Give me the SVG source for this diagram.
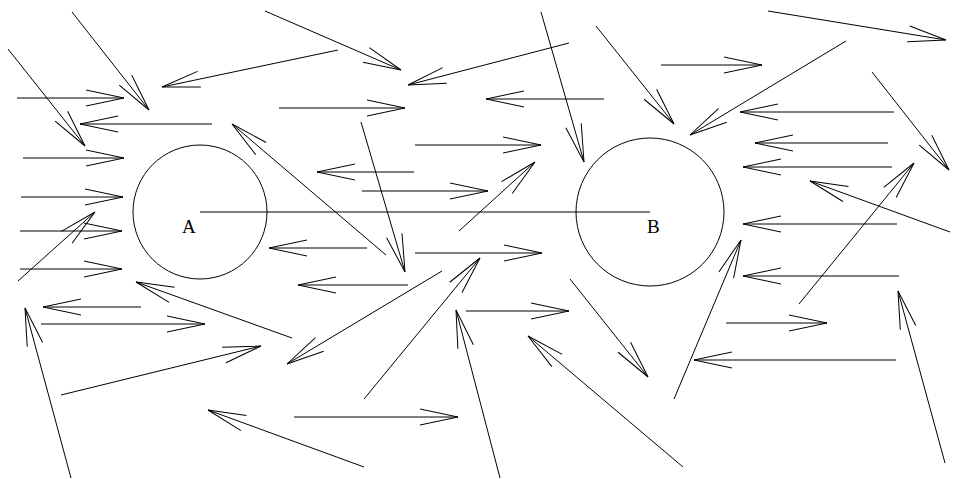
<svg xmlns="http://www.w3.org/2000/svg" width="954" height="479" viewBox="0 0 954 479">
<style>
.c{fill:none;stroke:#000;stroke-width:1}
.a{fill:none;stroke:#000;stroke-width:1;marker-end:url(#h)}
.l{fill:#000;font-family:"Liberation Serif","Times New Roman",serif;font-size:19px}
</style>
<defs>
<marker id="h" markerUnits="userSpaceOnUse" viewBox="-40 -10 42 20" refX="0" refY="0" markerWidth="42" markerHeight="20" orient="auto" overflow="visible">
<path d="M-38,-8 L0,0 L-38,8" fill="none" stroke="#000" stroke-width="1"/>
</marker>
</defs>
<rect width="954" height="479" fill="#fff"/>
<g id="nodeA">
<circle class="c" cx="200" cy="212" r="67"/>
<text class="l" x="182" y="233">A</text>
</g>
<g id="nodeB">
<circle class="c" cx="650" cy="212" r="74"/>
<text class="l" x="647" y="233">B</text>
</g>
<g id="connectors">
<line class="c" x1="200" y1="212" x2="650" y2="212"/>
<line class="a" x1="72" y1="12" x2="149" y2="110"/>
<line class="a" x1="8" y1="49" x2="85" y2="146"/>
<line class="a" x1="17" y1="98" x2="124" y2="98"/>
<line class="a" x1="212" y1="124" x2="80" y2="124"/>
<line class="a" x1="338" y1="50" x2="162" y2="87"/>
<line class="a" x1="265" y1="11" x2="401" y2="70"/>
<line class="a" x1="569" y1="43" x2="408" y2="85"/>
<line class="a" x1="279" y1="108" x2="405" y2="108"/>
<line class="a" x1="604" y1="99" x2="486" y2="99"/>
<line class="a" x1="541" y1="12" x2="584" y2="162"/>
<line class="a" x1="596" y1="26" x2="674" y2="124"/>
<line class="a" x1="661" y1="65" x2="762" y2="65"/>
<line class="a" x1="768" y1="11" x2="946" y2="40"/>
<line class="a" x1="846" y1="41" x2="690" y2="135"/>
<line class="a" x1="894" y1="112" x2="740" y2="112"/>
<line class="a" x1="872" y1="72" x2="949" y2="170"/>
<line class="a" x1="888" y1="143" x2="755" y2="143"/>
<line class="a" x1="892" y1="167" x2="743" y2="167"/>
<line class="a" x1="415" y1="145" x2="541" y2="145"/>
<line class="a" x1="362" y1="191" x2="488" y2="191"/>
<line class="a" x1="414" y1="172" x2="317" y2="172"/>
<line class="a" x1="361" y1="122" x2="405" y2="272"/>
<line class="a" x1="386" y1="255" x2="232" y2="124"/>
<line class="a" x1="459" y1="231" x2="535" y2="162"/>
<line class="a" x1="23" y1="158" x2="124" y2="158"/>
<line class="a" x1="21" y1="197" x2="123" y2="197"/>
<line class="a" x1="20" y1="231" x2="122" y2="231"/>
<line class="a" x1="20" y1="269" x2="122" y2="269"/>
<line class="a" x1="18" y1="281" x2="95" y2="212"/>
<line class="a" x1="141" y1="307" x2="43" y2="307"/>
<line class="a" x1="41" y1="324" x2="205" y2="324"/>
<line class="a" x1="71" y1="478" x2="25" y2="308"/>
<line class="a" x1="61" y1="395" x2="261" y2="346"/>
<line class="a" x1="364" y1="467" x2="208" y2="410"/>
<line class="a" x1="292" y1="338" x2="136" y2="282"/>
<line class="a" x1="367" y1="248" x2="269" y2="248"/>
<line class="a" x1="408" y1="285" x2="298" y2="285"/>
<line class="a" x1="415" y1="253" x2="542" y2="253"/>
<line class="a" x1="442" y1="271" x2="287" y2="364"/>
<line class="a" x1="364" y1="399" x2="480" y2="258"/>
<line class="a" x1="294" y1="417" x2="458" y2="417"/>
<line class="a" x1="500" y1="478" x2="456" y2="310"/>
<line class="a" x1="466" y1="311" x2="569" y2="311"/>
<line class="a" x1="570" y1="279" x2="648" y2="377"/>
<line class="a" x1="683" y1="467" x2="528" y2="336"/>
<line class="a" x1="950" y1="232" x2="810" y2="181"/>
<line class="a" x1="799" y1="304" x2="914" y2="163"/>
<line class="a" x1="897" y1="224" x2="743" y2="224"/>
<line class="a" x1="899" y1="276" x2="743" y2="276"/>
<line class="a" x1="674" y1="399" x2="741" y2="240"/>
<line class="a" x1="945" y1="463" x2="898" y2="291"/>
<line class="a" x1="726" y1="323" x2="827" y2="323"/>
<line class="a" x1="896" y1="360" x2="694" y2="360"/>
</g>
</svg>
